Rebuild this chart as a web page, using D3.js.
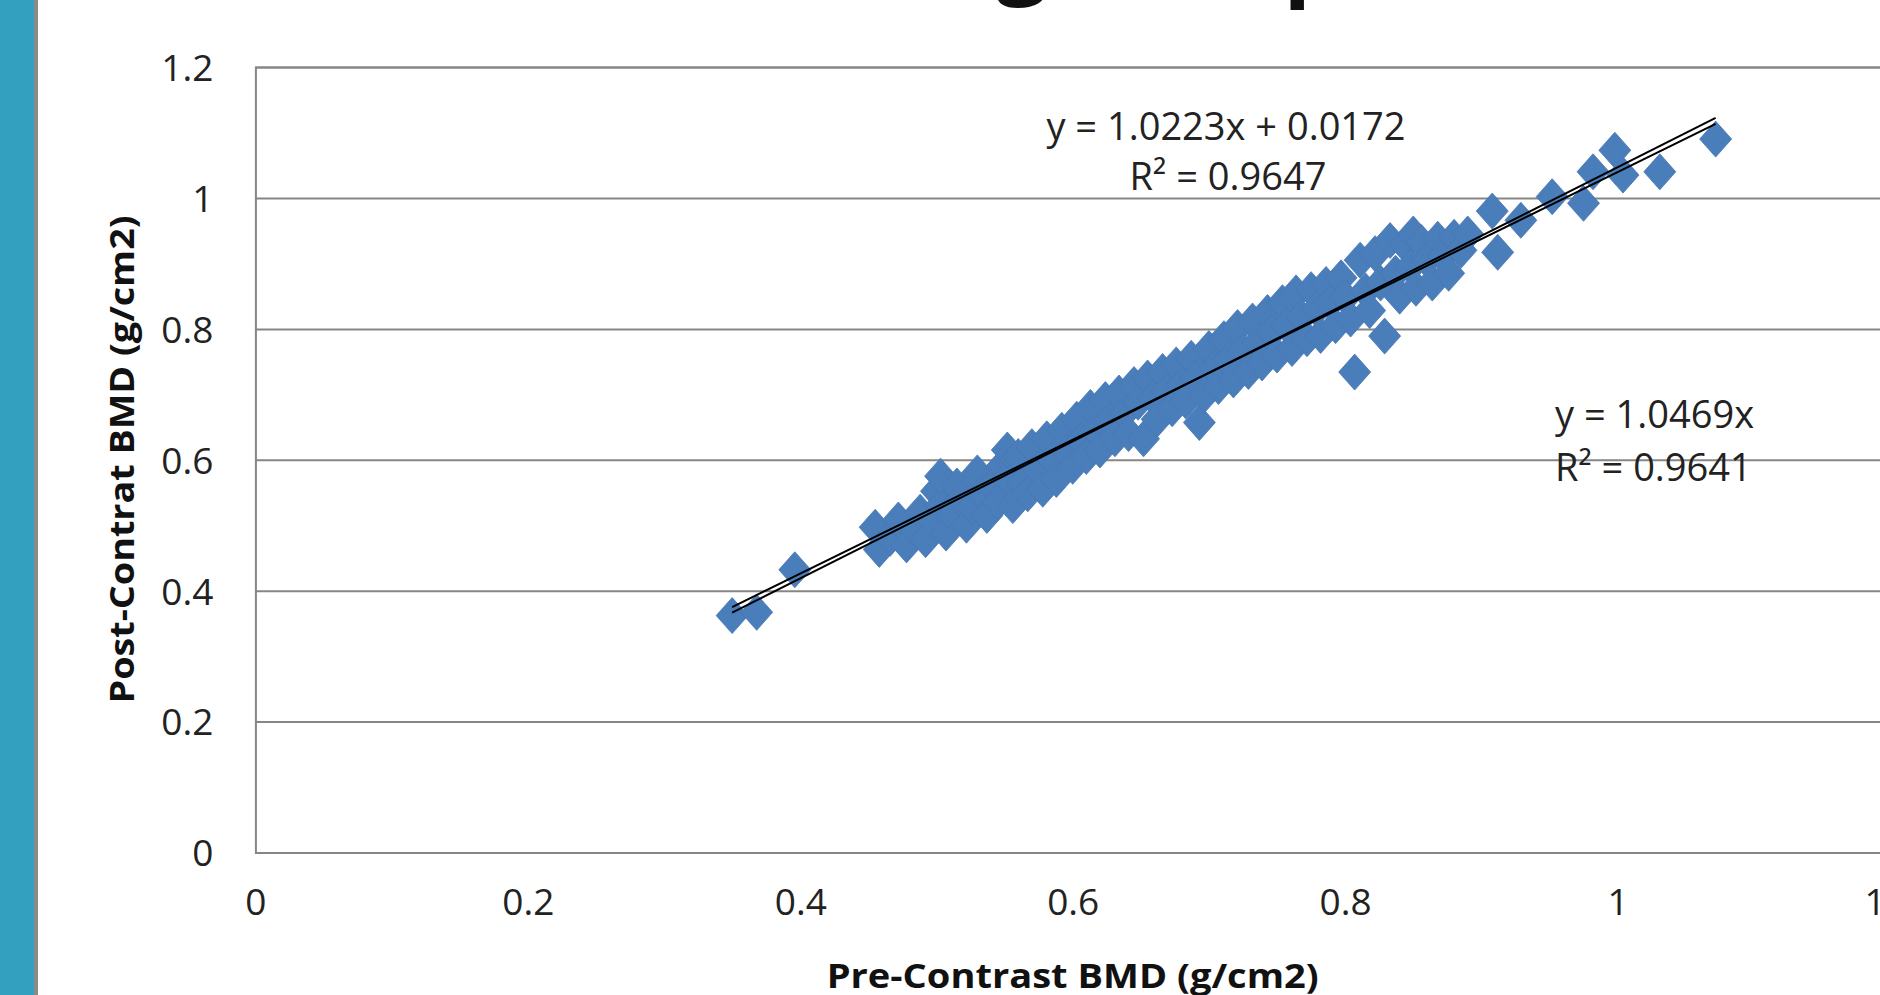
<!DOCTYPE html>
<html>
<head>
<meta charset="utf-8">
<script src="https://cdn.jsdelivr.net/npm/d3@7/dist/d3.min.js"></script>
<style>
  html, body { margin: 0; padding: 0; background: #ffffff; overflow: hidden; }
  svg { display: block; }
</style>
</head>
<body>
<svg id="chart" width="1880" height="995"></svg>
<script>
// ---- data ----
const xTickValues = [0, 0.2, 0.4, 0.6, 0.8, 1, 1.2];
const xTickLabels = ["0", "0.2", "0.4", "0.6", "0.8", "1", "1.2"];
const yTickValues = [0, 0.2, 0.4, 0.6, 0.8, 1, 1.2];
const yTickLabels = ["0", "0.2", "0.4", "0.6", "0.8", "1", "1.2"];

const xTitle = "Pre-Contrast  BMD (g/cm2)";
const yTitle = "Post-Contrat  BMD (g/cm2)";

// pre-contrast BMD values
const preBMD = [
  0.350, 0.368, 0.396,
  0.455, 0.458, 0.466, 0.472, 0.478, 0.484, 0.488, 0.492, 0.498, 0.500, 0.503, 0.503, 0.507,
  0.512, 0.515, 0.518, 0.522, 0.526, 0.530, 0.533, 0.537, 0.541, 0.545, 0.548, 0.552, 0.552,
  0.556, 0.560, 0.563, 0.567, 0.570, 0.574, 0.578, 0.581, 0.585, 0.588, 0.592, 0.596, 0.600,
  0.603, 0.606, 0.610, 0.613, 0.617, 0.620, 0.624, 0.627, 0.631, 0.634, 0.638, 0.641, 0.645,
  0.648, 0.652, 0.655, 0.659, 0.662, 0.666, 0.669, 0.673, 0.676, 0.680, 0.683, 0.687, 0.690,
  0.693, 0.697, 0.700, 0.704, 0.707, 0.711, 0.714, 0.718, 0.721, 0.725, 0.729, 0.732, 0.736,
  0.739, 0.743, 0.746, 0.750, 0.754, 0.757, 0.761, 0.764, 0.768, 0.772, 0.775, 0.779, 0.782,
  0.786, 0.789, 0.793, 0.797, 0.800, 0.804, 0.807, 0.811, 0.815, 0.818, 0.822, 0.826, 0.829,
  0.833, 0.837, 0.840, 0.844, 0.848, 0.850, 0.852, 0.856, 0.860, 0.864, 0.868, 0.872, 0.876,
  0.880, 0.885, 0.890,
  0.908, 0.912, 0.929, 0.952, 0.975, 0.982, 0.998, 1.004, 1.031, 1.072
];
// post-contrast BMD values (same order)
const postBMD = [
  0.362, 0.367, 0.432,
  0.497, 0.463, 0.480, 0.508, 0.470, 0.495, 0.520, 0.478, 0.505, 0.552, 0.530, 0.575, 0.488,
  0.515, 0.560, 0.540, 0.500, 0.528, 0.580, 0.548, 0.515, 0.560, 0.535, 0.590, 0.572, 0.615,
  0.530, 0.605, 0.565, 0.548, 0.620, 0.585, 0.555, 0.632, 0.600, 0.570, 0.645, 0.612, 0.590,
  0.662, 0.630, 0.605, 0.680, 0.645, 0.615, 0.692, 0.660, 0.632, 0.702, 0.672, 0.640, 0.715,
  0.688, 0.632, 0.725, 0.695, 0.662, 0.735, 0.705, 0.678, 0.745, 0.715, 0.690, 0.755, 0.725,
  0.657, 0.700, 0.770, 0.740, 0.712, 0.785, 0.752, 0.722, 0.802, 0.765, 0.735, 0.812, 0.780,
  0.748, 0.825, 0.795, 0.760, 0.840, 0.805, 0.770, 0.855, 0.818, 0.785, 0.860, 0.830, 0.790,
  0.868, 0.840, 0.805, 0.878, 0.848, 0.815, 0.734, 0.905, 0.858, 0.828, 0.915, 0.870, 0.789,
  0.935, 0.885, 0.850, 0.928, 0.895, 0.945, 0.862, 0.932, 0.905, 0.870, 0.937, 0.912, 0.885,
  0.940, 0.920, 0.945,
  0.980, 0.917, 0.966, 1.002, 0.992, 1.040, 1.073, 1.035, 1.040, 1.090
];

// trendlines: [slope, intercept]
const fitWithIntercept = [1.0223, 0.0172];
const fitThroughOrigin = [1.0469, 0];
const eq1Lines = ["y = 1.0223x + 0.0172", "R\u00B2 = 0.9647"];
const eq2Lines = ["y = 1.0469x", "R\u00B2 = 0.9641"];

// ---- drawing ----
const W = 1880, H = 995;
const svg = d3.select("#chart");
const FONT = "'Open Sans', 'Liberation Sans', sans-serif";

// slide decoration: teal bar at left
svg.append("rect").attr("x", 0).attr("y", 0).attr("width", 34).attr("height", H).attr("fill", "#33a0bf");
svg.append("rect").attr("x", 34).attr("y", 0).attr("width", 4).attr("height", H).attr("fill", "#8a8a8a");

// cut-off slide title (only descenders visible)
svg.append("text").attr("x", 1022).attr("y", -14).attr("text-anchor", "middle")
  .attr("font-family", FONT).attr("font-size", 90).attr("font-weight", "bold").attr("fill", "#111").text("g");
svg.append("text").attr("x", 1312).attr("y", -12).attr("text-anchor", "middle")
  .attr("font-family", FONT).attr("font-size", 90).attr("font-weight", "bold").attr("fill", "#111").text("p");

const x = d3.scaleLinear().domain([0, 1.2]).range([255.4, 1890]);
const y = d3.scaleLinear().domain([0, 1.2]).range([852.5, 67.1]);

// horizontal gridlines + y labels
const yAxis = d3.axisLeft(y)
  .tickValues(yTickValues)
  .tickSize(-(x.range()[1] - x.range()[0]))
  .tickPadding(42)
  .tickFormat((d, i) => yTickLabels[i]);
const gy = svg.append("g").attr("transform", `translate(${x(0)},0)`).call(yAxis);
gy.select(".domain").attr("stroke", "#868686").attr("stroke-width", 2);
gy.selectAll(".tick line").attr("stroke", "#868686").attr("stroke-width", 2);
gy.selectAll(".tick text").attr("font-family", FONT).attr("font-size", 37).attr("fill", "#222")
  .attr("dy", "0.36em");

// x labels (no ticks)
const xAxis = d3.axisBottom(x)
  .tickValues(xTickValues)
  .tickSize(0)
  .tickPadding(36)
  .tickFormat((d, i) => xTickLabels[i]);
const gx = svg.append("g").attr("transform", `translate(0,${y(0)})`).call(xAxis);
gx.select(".domain").attr("stroke", "#868686").attr("stroke-width", 2);
gx.selectAll(".tick text").attr("font-family", FONT).attr("font-size", 37).attr("fill", "#222");

// axis titles
svg.append("text")
  .attr("x", (x(0) + x(1.2)) / 2).attr("y", 988)
  .attr("text-anchor", "middle")
  .attr("font-family", FONT).attr("font-weight", "bold").attr("font-size", 34)
  .attr("textLength", 492).attr("lengthAdjust", "spacingAndGlyphs")
  .attr("fill", "#111").text(xTitle);

svg.append("text")
  .attr("transform", `translate(134,${(67 + 852) / 2}) rotate(-90)`)
  .attr("text-anchor", "middle")
  .attr("font-family", FONT).attr("font-weight", "bold").attr("font-size", 34)
  .attr("textLength", 488).attr("lengthAdjust", "spacingAndGlyphs")
  .attr("fill", "#111").text(yTitle);

// scatter diamonds
const points = preBMD.map((v, i) => ({ pre: v, post: postBMD[i] }));
const hw = 16, hh = 18;
const diamond = `M0,${-hh}L${hw},0L0,${hh}L${-hw},0Z`;
svg.append("g").selectAll("path").data(points).join("path")
  .attr("d", diamond)
  .attr("transform", d => `translate(${x(d.pre)},${y(d.post)})`)
  .attr("fill", "#4a7ebb")
  .attr("stroke", "#4676b2").attr("stroke-width", 0.8);

// trendlines spanning data range
const xMin = d3.min(preBMD), xMax = d3.max(preBMD);
[fitThroughOrigin, fitWithIntercept].forEach(f => {
  svg.append("line")
    .attr("x1", x(xMin)).attr("y1", y(f[0] * xMin + f[1]))
    .attr("x2", x(xMax)).attr("y2", y(f[0] * xMax + f[1]))
    .attr("stroke", "#000").attr("stroke-width", 2);
});

// equation labels
const e1 = svg.append("text").attr("font-family", FONT).attr("font-size", 38).attr("fill", "#222")
  .attr("text-anchor", "middle");
e1.append("tspan").attr("x", 1226).attr("y", 140).text(eq1Lines[0]);
e1.append("tspan").attr("x", 1228).attr("y", 190).text(eq1Lines[1]);

const e2 = svg.append("text").attr("font-family", FONT).attr("font-size", 38).attr("fill", "#222")
  .attr("text-anchor", "start");
e2.append("tspan").attr("x", 1555).attr("y", 428).text(eq2Lines[0]);
e2.append("tspan").attr("x", 1555).attr("y", 481).text(eq2Lines[1]);
</script>
</body>
</html>
